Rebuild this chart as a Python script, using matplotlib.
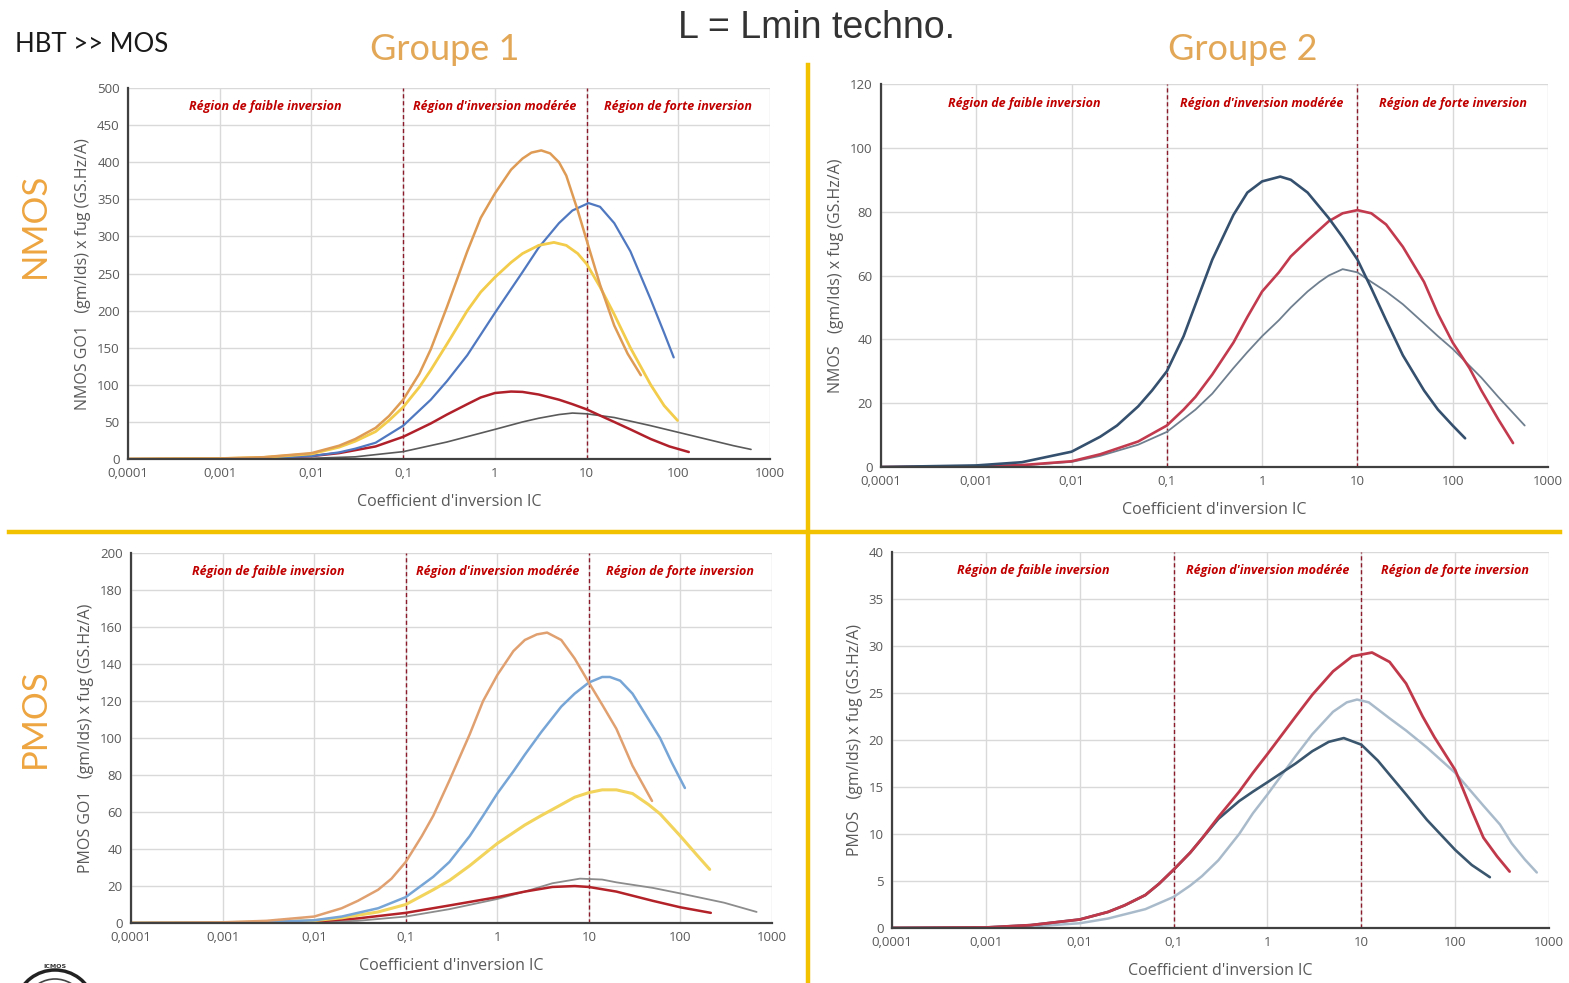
import matplotlib
matplotlib.use('Agg')
import matplotlib.pyplot as plt
from matplotlib.lines import Line2D
from matplotlib.patches import Arc
from matplotlib.ticker import FixedLocator, FixedFormatter, NullLocator

# x tick labels (french decimal comma)
x_ticks = [1e-4, 1e-3, 1e-2, 1e-1, 1, 10, 100, 1000]
x_labels = ['0,0001', '0,001', '0,01', '0,1', '1', '10', '100', '1000']

# ---- Groupe 1, NMOS GO1 ----
g1n_orange_x = [1e-4, 1e-3, 3e-3, 0.01, 0.02, 0.03, 0.05, 0.07, 0.1, 0.15, 0.2, 0.3, 0.5, 0.7, 1, 1.5, 2, 2.5, 3.2, 4, 5, 6, 8, 10, 14, 20, 28, 39]
g1n_orange_y = [0, 0.8, 2.5, 8, 18, 27, 42, 58, 80, 115, 148, 205, 280, 325, 358, 390, 405, 413, 416, 412, 400, 382, 335, 295, 235, 180, 142, 113]
g1n_yellow_x = [1e-4, 1e-3, 3e-3, 0.01, 0.02, 0.03, 0.05, 0.07, 0.1, 0.15, 0.2, 0.3, 0.5, 0.7, 1, 1.5, 2, 3, 4.4, 6, 8, 10, 14, 20, 30, 50, 70, 98]
g1n_yellow_y = [0, 0.7, 2.2, 7, 16, 24, 37, 52, 70, 97, 120, 155, 200, 225, 245, 265, 277, 288, 292, 288, 277, 263, 232, 195, 150, 100, 72, 52]
g1n_blue_x = [1e-4, 1e-3, 3e-3, 0.01, 0.02, 0.03, 0.05, 0.1, 0.2, 0.3, 0.5, 1, 2, 3, 5, 7, 10.5, 14, 20, 30, 50, 70, 89]
g1n_blue_y = [0, 0.4, 1.3, 4, 9, 14, 22, 45, 80, 105, 140, 197, 252, 285, 318, 335, 345, 340, 318, 280, 215, 170, 137]
g1n_red_x = [1e-4, 1e-3, 3e-3, 0.01, 0.02, 0.05, 0.1, 0.2, 0.3, 0.5, 0.7, 1, 1.5, 2, 3, 5, 7, 10, 15, 20, 30, 50, 80, 130]
g1n_red_y = [0, 0.4, 1.3, 4, 8, 17, 30, 48, 60, 74, 83, 89, 91, 90.5, 87, 80, 74, 67, 57, 50, 40, 27, 17, 9.5]
g1n_gray_x = [1e-4, 1e-3, 0.01, 0.03, 0.1, 0.3, 1, 2, 3, 5, 7, 10, 20, 50, 100, 200, 400, 620]
g1n_gray_y = [0, 0.1, 1, 3, 10, 23, 40, 50, 55, 60, 62, 61, 56, 45, 36, 27, 18, 13]

# ---- Groupe 2, NMOS ----
g2n_blue_x = [1e-4, 1e-3, 3e-3, 0.01, 0.02, 0.03, 0.05, 0.07, 0.1, 0.15, 0.2, 0.3, 0.5, 0.7, 1, 1.55, 2, 3, 5, 7, 10, 14, 20, 30, 50, 70, 100, 135]
g2n_blue_y = [0, 0.5, 1.5, 4.8, 9.5, 13, 19, 24, 30, 41, 51, 65, 79, 86, 89.5, 91, 90, 86, 78, 72, 65, 56, 46, 35, 24, 18, 13, 9]
g2n_red_x = [1e-4, 1e-3, 3e-3, 0.01, 0.02, 0.05, 0.1, 0.15, 0.2, 0.3, 0.5, 0.7, 1, 1.5, 2, 3, 5, 7, 10, 14, 20, 30, 50, 70, 100, 150, 200, 300, 430]
g2n_red_y = [0, 0.2, 0.6, 1.8, 4, 8, 13, 18, 22, 29, 39, 47, 55, 61, 66, 71, 77, 79.5, 80.5, 79.5, 76, 69, 58, 48, 39, 31, 24, 15, 7.5]
g2n_gray_x = [1e-4, 1e-3, 3e-3, 0.01, 0.02, 0.05, 0.1, 0.2, 0.3, 0.5, 0.7, 1, 1.5, 2, 3, 4, 5, 7, 10, 14, 20, 30, 50, 70, 100, 200, 300, 570]
g2n_gray_y = [0, 0.2, 0.5, 1.6, 3.5, 7, 11, 18, 23, 31, 36, 41, 46, 50, 55, 58, 60, 62, 61, 58, 55, 51, 45, 41, 37, 28, 22, 13]

# ---- Groupe 1, PMOS GO1 ----
g1p_orange_x = [1e-4, 1e-3, 3e-3, 0.01, 0.02, 0.03, 0.05, 0.07, 0.1, 0.15, 0.2, 0.3, 0.5, 0.7, 1, 1.5, 2, 2.7, 3.5, 5, 7, 10, 14, 20, 30, 49]
g1p_orange_y = [0, 0.4, 1.2, 3.5, 8, 12, 18, 24, 33, 47, 58, 77, 102, 120, 134, 147, 153, 156, 157, 153, 143, 130, 118, 105, 85, 66]
g1p_blue_x = [1e-4, 1e-3, 3e-3, 0.01, 0.02, 0.03, 0.05, 0.1, 0.2, 0.3, 0.5, 0.7, 1, 1.5, 2, 3, 5, 7, 10, 14, 17, 22, 30, 45, 60, 80, 112]
g1p_blue_y = [0, 0.2, 0.6, 1.5, 3.5, 5.5, 8, 14, 25, 33, 47, 58, 70, 82, 91, 103, 117, 124, 130, 133, 133, 131, 124, 110, 100, 87, 73]
g1p_yellow_x = [1e-4, 1e-3, 3e-3, 0.01, 0.02, 0.05, 0.1, 0.2, 0.3, 0.5, 1, 2, 3, 5, 7, 10, 14, 20, 30, 45, 60, 100, 150, 209]
g1p_yellow_y = [0, 0.2, 0.5, 1.3, 2.8, 6, 10, 18, 23, 31, 43, 53, 58, 64, 68, 70.5, 72, 72, 70, 64, 59, 47, 37, 29]
g1p_red_x = [1e-4, 1e-3, 0.01, 0.03, 0.1, 0.3, 1, 2, 4, 7, 10, 20, 50, 100, 215]
g1p_red_y = [0, 0.1, 0.8, 2.5, 5.5, 9.5, 14, 17, 19.5, 20, 19.5, 17, 12, 8.5, 5.5]
g1p_gray_x = [1e-4, 1e-3, 0.01, 0.03, 0.1, 0.3, 1, 2, 4, 8, 14, 20, 50, 100, 300, 680]
g1p_gray_y = [0, 0.05, 0.4, 1.2, 3.5, 7.5, 13, 17, 21.5, 24, 23.5, 22, 19, 16, 11, 6]

# ---- Groupe 2, PMOS ----
g2p_red_x = [1e-4, 1e-3, 3e-3, 0.01, 0.02, 0.03, 0.05, 0.07, 0.1, 0.15, 0.2, 0.3, 0.5, 0.7, 1, 2, 3, 5, 8, 13, 20, 30, 45, 60, 100, 150, 200, 280, 380]
g2p_red_y = [0, 0.05, 0.3, 0.9, 1.7, 2.4, 3.5, 4.7, 6.2, 8, 9.5, 11.8, 14.5, 16.5, 18.5, 22.5, 24.8, 27.3, 28.9, 29.3, 28.3, 26, 22.5, 20.3, 16.8, 12.5, 9.6, 7.6, 6]
g2p_blue_x = [1e-4, 1e-3, 3e-3, 0.01, 0.02, 0.03, 0.05, 0.07, 0.1, 0.15, 0.2, 0.3, 0.5, 0.7, 1, 2, 3, 4.5, 6.5, 10, 15, 20, 30, 50, 100, 150, 234]
g2p_blue_y = [0, 0.05, 0.3, 0.9, 1.7, 2.4, 3.5, 4.7, 6.2, 8, 9.5, 11.6, 13.5, 14.5, 15.5, 17.5, 18.8, 19.8, 20.2, 19.5, 17.8, 16.3, 14.2, 11.5, 8.3, 6.7, 5.4]
g2p_light_x = [1e-4, 1e-3, 3e-3, 0.01, 0.02, 0.05, 0.1, 0.15, 0.2, 0.3, 0.5, 0.7, 1, 1.5, 2, 3, 5, 7, 9, 12, 20, 30, 50, 100, 200, 300, 400, 550, 740]
g2p_light_y = [0, 0.03, 0.15, 0.5, 1, 2, 3.3, 4.5, 5.5, 7.2, 10, 12.2, 14.2, 16.6, 18.3, 20.6, 23, 24, 24.3, 24, 22.3, 21, 19.2, 16.5, 13, 11, 9, 7.3, 5.9]

TXT = '#595959'
REGION_RED = '#C00000'
FONT = 'Open Sans'


def draw_panel(rect, series, ymax, ystep, ylabel):
    ax = fig.add_axes(rect)
    ax.set_xscale('log')
    ax.set_xlim(1e-4, 1000)
    ax.set_ylim(0, ymax)
    yt = list(range(0, ymax + 1, ystep))
    ax.yaxis.set_major_locator(FixedLocator(yt))
    ax.xaxis.set_major_locator(FixedLocator(x_ticks))
    ax.xaxis.set_major_formatter(FixedFormatter(x_labels))
    ax.xaxis.set_minor_locator(NullLocator())
    ax.grid(True, color='#D9D9D9', lw=1)
    ax.set_axisbelow(True)
    for s in ['top', 'right']:
        ax.spines[s].set_visible(False)
    for s in ['left', 'bottom']:
        ax.spines[s].set_color('#404040')
        ax.spines[s].set_linewidth(1.6)
    ax.tick_params(length=0, labelsize=9.5, labelcolor=TXT, pad=6)
    for lab in ax.get_xticklabels() + ax.get_yticklabels():
        lab.set_family(FONT)
    for xv in [0.1, 10]:
        ax.axvline(xv, color='#8B1A2A', lw=1, ls=(0, (3, 2)))
    for xc, t in [(10 ** -2.5, 'Région de faible inversion'),
                  (1, "Région d'inversion modérée"),
                  (100, 'Région de forte inversion')]:
        ax.text(xc, ymax * 0.95, t, ha='center', va='center', fontsize=9,
                color=REGION_RED, style='italic', weight='bold', family=FONT)
    for xs, ys, c, lw in series:
        ax.plot(xs, ys, color=c, lw=lw, solid_capstyle='round', solid_joinstyle='round')
    ax.set_ylabel(ylabel, fontsize=11.5, color=TXT, family=FONT, labelpad=4)
    ax.set_xlabel("Coefficient d'inversion IC", fontsize=11.5, color=TXT, family=FONT, labelpad=10)
    return ax


fig = plt.figure(figsize=(15.69, 9.83), dpi=100)
fig.patch.set_facecolor('white')

draw_panel([0.0816, 0.533, 0.4092, 0.3774], [
    (g1n_gray_x, g1n_gray_y, '#5A5A5A', 1.2),
    (g1n_red_x, g1n_red_y, '#B0202A', 1.8),
    (g1n_blue_x, g1n_blue_y, '#4F78C0', 1.6),
    (g1n_yellow_x, g1n_yellow_y, '#F2CC4A', 2.0),
    (g1n_orange_x, g1n_orange_y, '#DE9B55', 1.8),
], 500, 50, 'NMOS GO1   (gm/Ids) x fug (GS.Hz/A)')

draw_panel([0.5615, 0.5249, 0.4251, 0.3896], [
    (g2n_gray_x, g2n_gray_y, '#6F7F8F', 1.3),
    (g2n_red_x, g2n_red_y, '#C23A4E', 1.9),
    (g2n_blue_x, g2n_blue_y, '#34506E', 1.9),
], 120, 20, 'NMOS   (gm/Ids) x fug (GS.Hz/A)')

draw_panel([0.0835, 0.061, 0.4085, 0.3764], [
    (g1p_gray_x, g1p_gray_y, '#8C8C8C', 1.3),
    (g1p_red_x, g1p_red_y, '#B22228', 1.8),
    (g1p_yellow_x, g1p_yellow_y, '#F2D35B', 2.2),
    (g1p_blue_x, g1p_blue_y, '#76A5D6', 1.8),
    (g1p_orange_x, g1p_orange_y, '#E0A070', 1.8),
], 200, 20, 'PMOS GO1   (gm/Ids) x fug (GS.Hz/A)')

draw_panel([0.5685, 0.056, 0.4188, 0.3825], [
    (g2p_light_x, g2p_light_y, '#A9BBCB', 1.8),
    (g2p_blue_x, g2p_blue_y, '#3A566E', 1.9),
    (g2p_red_x, g2p_red_y, '#C0394B', 2.0),
], 40, 5, 'PMOS   (gm/Ids) x fug (GS.Hz/A)')

# yellow separators
fig.add_artist(Line2D([0.006, 0.994], [0.4588, 0.4588], transform=fig.transFigure,
                      color='#F2C200', lw=3.2))
fig.add_artist(Line2D([0.515, 0.515], [0.0, 0.934], transform=fig.transFigure,
                      color='#F2C200', lw=3.2))

# titles
fig.text(15 / 1569, 1 - 45 / 983, 'HBT >> MOS', fontsize=18.5, color='#1A1A1A',
         family='Lato', ha='left', va='center')
fig.text(445 / 1569, 1 - 49 / 983, 'Groupe 1', fontsize=26, color='#E3A857',
         family='Lato', ha='center', va='center')
fig.text(1243 / 1569, 1 - 49 / 983, 'Groupe 2', fontsize=26, color='#E3A857',
         family='Lato', ha='center', va='center')
fig.text(816 / 1569, 1 - 28 / 983, 'L = Lmin techno.', fontsize=27, color='#333333',
         family='Liberation Sans', ha='center', va='center')
fig.text(35 / 1569, 1 - 225 / 983, 'NMOS', fontsize=25, color='#EDA540',
         family='Lato', ha='center', va='center', rotation=90)
fig.text(35 / 1569, 1 - 718 / 983, 'PMOS', fontsize=25, color='#EDA540',
         family='Lato', ha='center', va='center', rotation=90)

# partial logo in the lower-left corner (pixel units)
logo_ax = fig.add_axes([0.0, 0.0, 120 / 1569, 40 / 983])
logo_ax.set_xlim(0, 120)
logo_ax.set_ylim(0, 40)
logo_ax.axis('off')
logo_ax.add_patch(Arc((55, -27), 80, 80, theta1=15, theta2=165, color='#222222', lw=2.5))
logo_ax.add_patch(Arc((55, -27), 62, 62, theta1=30, theta2=150, color='#444444', lw=1.2))
logo_ax.text(55, 16, 'ICMOS', fontsize=4.5, color='#333333', ha='center', va='center',
             family='DejaVu Sans', weight='bold')

fig.savefig('out.png', dpi=100, facecolor='white')
